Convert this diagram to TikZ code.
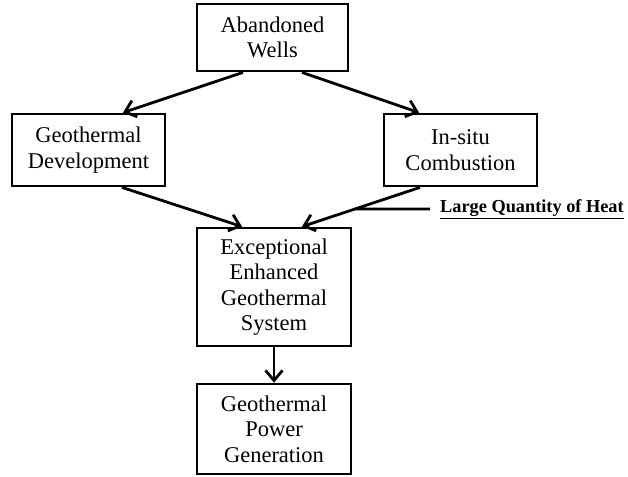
\documentclass[tikz,border=0pt]{standalone}
\usepackage{fontspec}
\setmainfont{Liberation Serif}
\usetikzlibrary{arrows.meta}
\begin{document}
\begin{tikzpicture}[x=1pt,y=1pt,
  box/.style={draw,line width=2.8pt,rectangle,align=center,font=\fontsize{22.5}{25.5}\selectfont,inner sep=0pt},
  arr/.style={line width=2.8pt,-{Straight Barb[length=10pt,width=17pt,line width=2.8pt]}},
  lbl/.style={font=\bfseries\fontsize{18.3}{20}\selectfont,anchor=west,inner sep=0pt}]
\useasboundingbox (0,0) rectangle (628,-476);
\node[box,minimum width=151pt,minimum height=67pt] (AW) at (272.5,-37.5) {Abandoned\\Wells};
\node[box,minimum width=153pt,minimum height=72pt] (GD) at (88.5,-150) {Geothermal\\Development};
\node[box,minimum width=153pt,minimum height=72pt] (IC) at (460.5,-150) {In-situ\\Combustion};
\node[box,minimum width=154pt,minimum height=118pt] (EG) at (274,-287) {Exceptional\\Enhanced\\Geothermal\\System};
\node[box,minimum width=154pt,minimum height=90pt] (PG) at (274,-429) {Geothermal\\Power\\Generation};
\node[lbl] (heat) at (440,-209) {\underline{Large Quantity of Heat}};
\draw[arr] ([xshift=-29.5pt]AW.south) -- ([xshift=34.5pt]GD.north);
\draw[arr] ([xshift=29.5pt]AW.south) -- ([xshift=-41.5pt]IC.north);
\draw[arr] ([xshift=33.5pt]GD.south) -- ([xshift=-32pt]EG.north);
\draw[arr] ([xshift=-40.5pt]IC.south) -- coordinate[pos=0.548] (h) ([xshift=28pt]EG.north);
\draw[line width=2.8pt] (h) -- ([xshift=-10pt]heat.west);
\draw[arr] (EG.south) -- (PG.north);
\end{tikzpicture}
\end{document}
